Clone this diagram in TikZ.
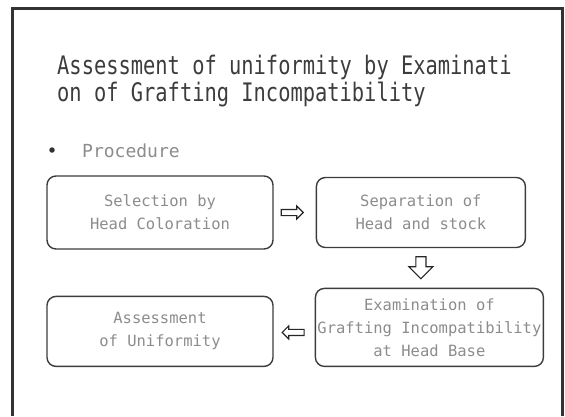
\documentclass[tikz,border=0pt]{standalone}
\usepackage{fontspec}
\newfontfamily\headfont[FakeStretch=0.8]{DejaVu Sans Mono}
\newfontfamily\bodyfont{DejaVu Sans Mono}
\usetikzlibrary{positioning, shapes.arrows}
\definecolor{framegray}{HTML}{333333}
\definecolor{titlegray}{HTML}{3C3C3C}
\definecolor{textgray}{HTML}{8C8C8C}
\definecolor{boxline}{HTML}{3C3C3C}

\begin{document}
\begin{tikzpicture}[
    x=1pt, y=-1pt,
    stepbox/.style={draw=boxline, line width=1.4pt, rounded corners=9pt, align=center, text=textgray, font=\fontsize{15.5}{23}\bodyfont, inner sep=0pt},
    flowarrow/.style={single arrow, draw=black!85, line width=1.1pt, fill=white, inner sep=2.5pt, single arrow head extend=3.5pt, minimum height=22pt, single arrow tip angle=90}
  ]
  \useasboundingbox (0,0) rectangle (565,416);

  % slide frame
  \draw[framegray, line width=3pt] (12.5,416) -- (12.5,8.5) -- (562.5,8.5) -- (562.5,416);

  % title
  \node[anchor=north west, inner sep=0pt, align=left, text=titlegray, font=\fontsize{25.5}{27}\headfont] (title) at (57,55) {Assessment of uniformity by Examinati\\on of Grafting Incompatibility};

  % bullet
  \node[circle, fill=black!80, inner sep=0pt, minimum size=5.5pt] (dot) at (52,150) {};
  \node[anchor=base west, inner sep=0pt, text=textgray, font=\fontsize{18}{20}\bodyfont] (proc) at (82,157) {Procedure};

  % steps
  \node[stepbox, minimum width=226pt, minimum height=73pt] (select) at (160,212.5) {Selection by\\Head Coloration};
  \node[stepbox, minimum width=209pt, minimum height=70pt, right=42pt of select] (separate) {Separation of\\Head and stock};
  \node[stepbox, minimum width=226pt, minimum height=70pt, below=46pt of select] (assess) {Assessment\\of Uniformity};
  \node[stepbox, minimum width=228pt, minimum height=78pt, right=41pt of assess, yshift=4pt] (examine) {Examination of\\Grafting Incompatibility\\at Head Base};

  % block arrows
  \node[flowarrow, right=7pt of select] (toSep) {};
  \node[flowarrow, shape border rotate=270, inner sep=4.5pt, single arrow head extend=7pt, below=8pt of separate] (toExam) {};
  \node[flowarrow, shape border rotate=180, left=10pt of examine, yshift=-5pt] (toAssess) {};
\end{tikzpicture}
\end{document}
